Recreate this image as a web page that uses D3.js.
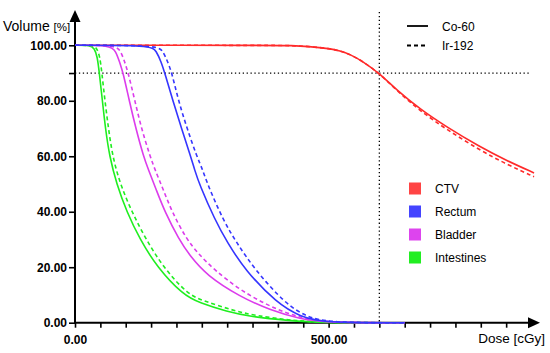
<!DOCTYPE html>
<html><head><meta charset="utf-8">
<script src="https://cdn.jsdelivr.net/npm/d3@7"></script>
<style>body{margin:0;background:#fff}svg{display:block}text{font-family:"Liberation Sans",Arial,sans-serif}</style>
</head><body><svg id="c" width="550" height="353"></svg>
<script>
// ---- data ----
const organs = ["CTV","Rectum","Bladder","Intestines"];
const sources = ["Co-60","Ir-192"];
const xTicks = [0,50,100,150,200,250,300,350,400,450,500,550,600,650,700,750,800,850];
const xTickLabels = [0,500];
const yTicks = [0,20,40,60,80,90,100];
const yTickLabels = [0,20,40,60,80,100];
const refDose = 600, refVol = 90;

const ctvCoDose = [0,400,424,460,503,522,542,568,600,634,680,733,798,850,905];
const ctvCoVol  = [100,100,99.9,99.6,98.8,98.0,96.8,94.1,89.9,83.9,77.0,70.5,63.4,58.5,54.0];
const ctvIrDose = [0,400,424,460,503,522,542,568,600,634,680,733,798,850,905];
const ctvIrVol  = [100,100,99.9,99.6,98.8,98.0,96.8,94.1,89.9,83.7,76.4,69.6,62.2,57.2,52.6];

const recCoDose = [0,150,160,170,177,193,210,228,236,245,276,300,335,398,444,490,650];
const recCoVol  = [100,100,98,94,90,80,70,60,55,50,37,29,19,7,2.2,0,0];
const recIrDose = [0,163,173,183,191,204,221,240,252,261,292,318,355,414,455,500,650];
const recIrVol  = [100,100,98,94,90,80,70,60,55,50,37,29,19,7,2.2,0,0];

const blaCoDose = [0,70,80,88,95,107,120,135,145,160,177,205,227,260,325,384,444,500,650];
const blaCoVol  = [100,100,98,94,90,80,70,60,55,48,40,30,24,17,9.4,4.6,1.3,0,0];
const blaIrDose = [0,80,90,98,105,118,131,148,158,174,191,220,245,275,325,384,444,505,650];
const blaIrVol  = [100,100,98,94,90,80,70,60,55,48,40,30,24.5,19,11.8,5.8,1.6,0,0];

const intCoDose = [0,30,38,44,48,54,60,68,82,102,128,162,213,246,300,345,424,480,650];
const intCoVol  = [100,100,99,96,90,80,70,60,50,40,30,20,10,7.1,4,2.2,0.7,0,0];
const intIrDose = [0,35,43,49,53,59,66,74,89,112,140,174,223,255,310,355,430,490,650];
const intIrVol  = [100,100,99,96,90,80,70,60,50,40,30,20,10,7.8,4.5,2.5,0.8,0,0];

const lineColors = {CTV:"#ff2a2a",Rectum:"#3535ff",Bladder:"#dc3cec",Intestines:"#1fee1f"};
const swatchColors = {CTV:"#ff4444",Rectum:"#4444ff",Bladder:"#dd44ee",Intestines:"#22ee22"};

const series = [
  {organ:"CTV",src:"Co-60",d:ctvCoDose,v:ctvCoVol},
  {organ:"CTV",src:"Ir-192",d:ctvIrDose,v:ctvIrVol},
  {organ:"Intestines",src:"Co-60",d:intCoDose,v:intCoVol},
  {organ:"Intestines",src:"Ir-192",d:intIrDose,v:intIrVol},
  {organ:"Bladder",src:"Co-60",d:blaCoDose,v:blaCoVol},
  {organ:"Bladder",src:"Ir-192",d:blaIrDose,v:blaIrVol},
  {organ:"Rectum",src:"Co-60",d:recCoDose,v:recCoVol},
  {organ:"Rectum",src:"Ir-192",d:recIrDose,v:recIrVol},
];

// ---- chart ----
const svg = d3.select("#c");
const x = d3.scaleLinear().domain([0,912]).range([75,537.6]);
const y = d3.scaleLinear().domain([0,100]).range([322.7,45.3]);
const yTop = 10;

// reference dotted lines
svg.append("line").attr("x1",x(0)).attr("x2",530).attr("y1",y(refVol)).attr("y2",y(refVol))
  .attr("stroke","#000").attr("stroke-width",1.3).attr("stroke-dasharray","1.3,2.6");
svg.append("line").attr("x1",x(refDose)).attr("x2",x(refDose)).attr("y1",yTop+2).attr("y2",y(0))
  .attr("stroke","#000").attr("stroke-width",1.3).attr("stroke-dasharray","1.3,2.6");

// axes
const xAxis = svg.append("g").attr("transform",`translate(0,${y(0)})`)
  .call(d3.axisBottom(x).tickValues(xTicks).tickSize(5).tickFormat(d=>xTickLabels.includes(d)?d3.format(".2f")(d):""));
const yAxis = svg.append("g").attr("transform",`translate(${x(0)},0)`)
  .call(d3.axisLeft(y).tickValues(yTicks).tickSize(6).tickFormat(d=>yTickLabels.includes(d)?d3.format(".2f")(d):""));
[xAxis,yAxis].forEach(g=>{
  g.select(".domain").remove();
  g.selectAll(".tick line").attr("stroke","#000").attr("stroke-width",1.6);
  g.selectAll(".tick text").attr("fill","#000").attr("font-size",12).attr("font-weight","bold")
   .attr("font-family","Liberation Sans, Arial, sans-serif");
});
xAxis.selectAll(".tick text").attr("dy","1.1em");
yAxis.selectAll(".tick text").attr("x",-8);

// axis lines with arrows
svg.append("line").attr("x1",x(0)-1).attr("x2",532).attr("y1",y(0)).attr("y2",y(0)).attr("stroke","#000").attr("stroke-width",2);
svg.append("line").attr("x1",x(0)).attr("x2",x(0)).attr("y1",y(0)+1).attr("y2",yTop+6).attr("stroke","#000").attr("stroke-width",2);
svg.append("path").attr("d",`M${540},${y(0)} L${528},${y(0)-5.5} L${528},${y(0)+5.5} Z`).attr("fill","#000");
svg.append("path").attr("d",`M${x(0)},${yTop} L${x(0)-5.5},${yTop+12} L${x(0)+5.5},${yTop+12} Z`).attr("fill","#000");

// curves
const line = d3.line().x(p=>x(p[0])).y(p=>y(p[1])).curve(d3.curveBasis);
series.forEach(s=>{
  const pts = s.d.map((dd,i)=>[dd,s.v[i]]);
  svg.append("path").attr("d",line(pts)).attr("fill","none")
    .attr("stroke",lineColors[s.organ]).attr("stroke-width",1.6)
    .attr("stroke-dasharray",s.src==="Ir-192"?"4,3":null);
});

// axis titles
const yt = svg.append("text").attr("x",3).attr("y",31).attr("font-size",14).attr("fill","#000");
yt.append("tspan").text("Volume ");
yt.append("tspan").attr("font-size",11.5).text("[%]");
svg.append("text").attr("x",545).attr("y",343).attr("text-anchor","end").attr("font-size",13.5).attr("fill","#000").text("Dose [cGy]");

// source legend
sources.forEach((s,i)=>{
  const yy = 26 + i*19.5;
  svg.append("line").attr("x1",407).attr("x2",428).attr("y1",yy).attr("y2",yy)
    .attr("stroke","#000").attr("stroke-width",1.8).attr("stroke-dasharray",i===1?"4,3":null);
  svg.append("text").attr("x",442).attr("y",yy+4.5).attr("font-size",12).attr("fill","#000").text(s);
});

// organ legend
organs.forEach((o,i)=>{
  const yc = 188.5 + i*23;
  svg.append("rect").attr("x",409).attr("y",yc-6).attr("width",12).attr("height",12).attr("fill",swatchColors[o]);
  svg.append("text").attr("x",435).attr("y",yc+4.5).attr("font-size",12).attr("fill","#000").text(o);
});
</script></body></html>
